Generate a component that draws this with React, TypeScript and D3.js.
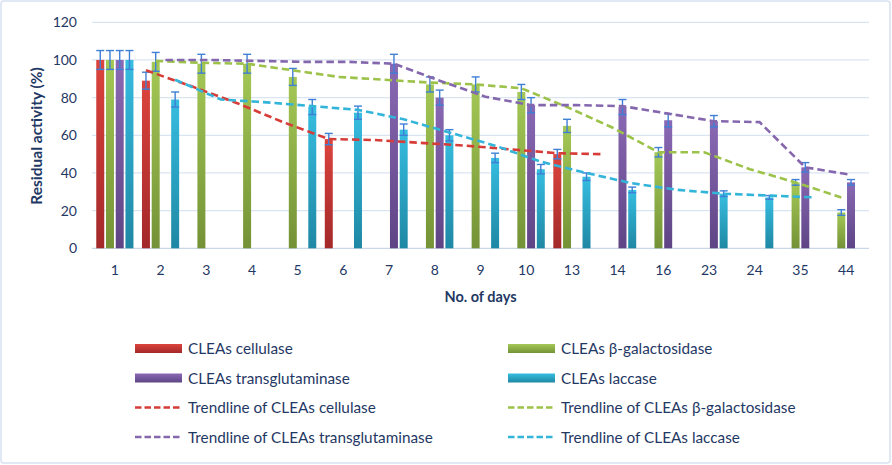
import React from "react";
import * as d3 from "d3";

const days = ["1", "2", "3", "4", "5", "6", "7", "8", "9", "10", "13", "14", "16", "23", "24", "35", "44"];

const cellulase = [100, 89, null, null, null, 58, null, null, null, null, 50, null, null, null, null, null, null];
const cellulaseErr = [5, 4.5, null, null, null, 3, null, null, null, null, 2.5, null, null, null, null, null, null];
const galactosidase = [100, 99, 98, 98, 91, null, null, 87, 87, 83, 65, null, 51, null, null, 35, 19];
const galactosidaseErr = [5, 5, 5, 5, 4.5, null, null, 4, 4, 4, 3.5, null, 2.5, null, null, 1.5, 1.5];
const transglutaminase = [100, null, null, null, null, null, 98, 80, null, 76, null, 75, 68, 67.5, null, 43, 35];
const transglutaminaseErr = [5, null, null, null, null, null, 5, 4, null, 4, null, 4, 3.5, 3, null, 2.5, 1.5];
const laccase = [100, 79, null, null, 75, 72, 63, 60, 48, 42, 38, 31, null, 29, 27, null, null];
const laccaseErr = [5, 4, null, null, 4, 3.5, 3, 3, 2.5, 2.5, 2, 1.5, null, 1.5, 1, null, null];

const trendCellulase = [null, 94.5, 86, 77, 67, 58, 57.5, 56, 54.5, 52.5, 50.5, 50, null, null, null, null, null];
const trendGalactosidase = [null, 99.5, 98.5, 98, 94.5, 91, 89.5, 88, 87, 85, 75, 64, 51, 51, 42, 35, 27];
const trendTransglutaminase = [null, 100, 100, 99.5, 99, 99, 98, 89, 80.5, 76, 76, 75.5, 71.5, 67.5, 67, 43, 39];
const trendLaccase = [null, 89.5, 79, 77.5, 75.5, 73.5, 68.5, 61.5, 54.5, 46, 40, 34.5, 31, 29, 28, 27, null];

const yTicks = [0, 20, 40, 60, 80, 100, 120];

const seriesNames = ["CLEAs cellulase", "CLEAs β-galactosidase", "CLEAs transglutaminase", "CLEAs laccase"];

type S = { name: string; values: (number | null)[]; err: (number | null)[]; trend: (number | null)[]; top: string; bottom: string; line: string; id: string };

const series: S[] = [
  { name: seriesNames[0], values: cellulase, err: cellulaseErr, trend: trendCellulase, top: "#dc443d", bottom: "#a3282a", line: "#d63c38", id: "gr" },
  { name: seriesNames[1], values: galactosidase, err: galactosidaseErr, trend: trendGalactosidase, top: "#a4c856", bottom: "#749236", line: "#9cc24a", id: "gg" },
  { name: seriesNames[2], values: transglutaminase, err: transglutaminaseErr, trend: trendTransglutaminase, top: "#8a69b4", bottom: "#5e4485", line: "#8467ad", id: "gp" },
  { name: seriesNames[3], values: laccase, err: laccaseErr, trend: trendLaccase, top: "#36bde0", bottom: "#1f88a4", line: "#33b5da", id: "gb" },
];

const W = 892;
const H = 465;
const plot = { left: 92, right: 869, top: 22.3, bottom: 248.3 };
const textColor = "#1f3864";
const font = "Lato, 'Open Sans', sans-serif";

export default function App() {
  const x = d3.scaleBand<string>().domain(days).range([plot.left, plot.right]).padding(0);
  const y = d3.scaleLinear().domain([0, 120]).range([plot.bottom, plot.top]);
  const band = x.bandwidth();
  const step = band * 0.213;
  const bw = step * 0.82;
  const slotX = (si: number, i: number) => (x(days[i]) as number) + band / 2 + (si - 1.5) * step;

  return (
    <div>
      <style>{`body{margin:0}`}</style>
      <svg width={W} height={H} style={{ display: "block", fontFamily: font }}>
        <defs>
          {series.map((s) => (
            <linearGradient key={s.id} id={s.id} x1="0" y1="0" x2="0" y2="1">
              <stop offset="0%" stopColor={s.top} />
              <stop offset="100%" stopColor={s.bottom} />
            </linearGradient>
          ))}
        </defs>
        <rect x={1} y={1} width={W - 3} height={H - 3} rx={3} fill="#fff" stroke="#d6e2f0" strokeWidth={1.5} />
        {yTicks.map((t) => (
          <g key={t}>
            <line x1={plot.left} x2={plot.right} y1={y(t)} y2={y(t)} stroke={t === 0 ? "#c9d7e8" : "#dbe5f1"} strokeWidth={1.2} />
            <text x={77} y={y(t)} dy="0.36em" textAnchor="end" fontSize={14} fill={textColor}>{t}</text>
          </g>
        ))}
        {days.map((d) => (
          <text key={d} x={(x(d) as number) + band / 2} y={275} textAnchor="middle" fontSize={14} fill={textColor}>{d}</text>
        ))}
        {series.map((s, si) => (
          <g key={s.id}>
            {s.values.map((v, i) =>
              v == null ? null : (
                <rect key={i} x={slotX(si, i) - bw / 2} y={y(v)} width={bw} height={y(0) - y(v)} fill={`url(#${s.id})`} />
              )
            )}
          </g>
        ))}
        {series.map((s, si) => (
          <g key={s.id + "e"} stroke="#3f7fd6" strokeWidth={1.4}>
            {s.values.map((v, i) => {
              const e = s.err[i];
              if (v == null || e == null) return null;
              const cx = slotX(si, i);
              return (
                <g key={i}>
                  <line x1={cx} x2={cx} y1={y(v - e)} y2={y(v + e)} />
                  <line x1={cx - 4} x2={cx + 4} y1={y(v + e)} y2={y(v + e)} />
                  <line x1={cx - 4} x2={cx + 4} y1={y(v - e)} y2={y(v - e)} />
                </g>
              );
            })}
          </g>
        ))}
        {series.map((s, si) => {
          const pts = s.trend.map((v, i) => (v == null ? null : [slotX(si, i), y(v)] as [number, number])).filter((p) => p != null) as [number, number][];
          const path = d3.line()(pts) || "";
          return <path key={s.id + "t"} d={path} fill="none" stroke={s.line} strokeWidth={2.6} strokeDasharray="7.5,4" />;
        })}
        <text transform={`translate(42,136) rotate(-90)`} textAnchor="middle" fontSize={15.5} fontWeight="bold" fill={textColor}>Residual activity (%)</text>
        <text x={(plot.left + plot.right) / 2} y={302} textAnchor="middle" fontSize={14.5} fontWeight="bold" fill={textColor}>No. of days</text>
        {[0, 1, 2, 3, 4, 5, 6, 7].map((k) => {
          const col = k % 2;
          const row = Math.floor(k / 2);
          const sx = col === 0 ? 135 : 508;
          const ty = 348.5 + row * 29.5;
          const s = series[row < 2 ? row * 2 + col : (row - 2) * 2 + col];
          const label = row < 2 ? s.name : "Trendline of " + s.name;
          return (
            <g key={k}>
              {row < 2 ? (
                <rect x={sx} y={ty - 4.5} width={47} height={9} fill={`url(#${s.id})`} />
              ) : (
                <line x1={sx} x2={sx + 47} y1={ty} y2={ty} stroke={s.line} strokeWidth={2.6} strokeDasharray="6.5,3" />
              )}
              <text x={sx + 53} y={ty} dy="0.36em" fontSize={15.3} fill={textColor}>{label}</text>
            </g>
          );
        })}
      </svg>
    </div>
  );
}
